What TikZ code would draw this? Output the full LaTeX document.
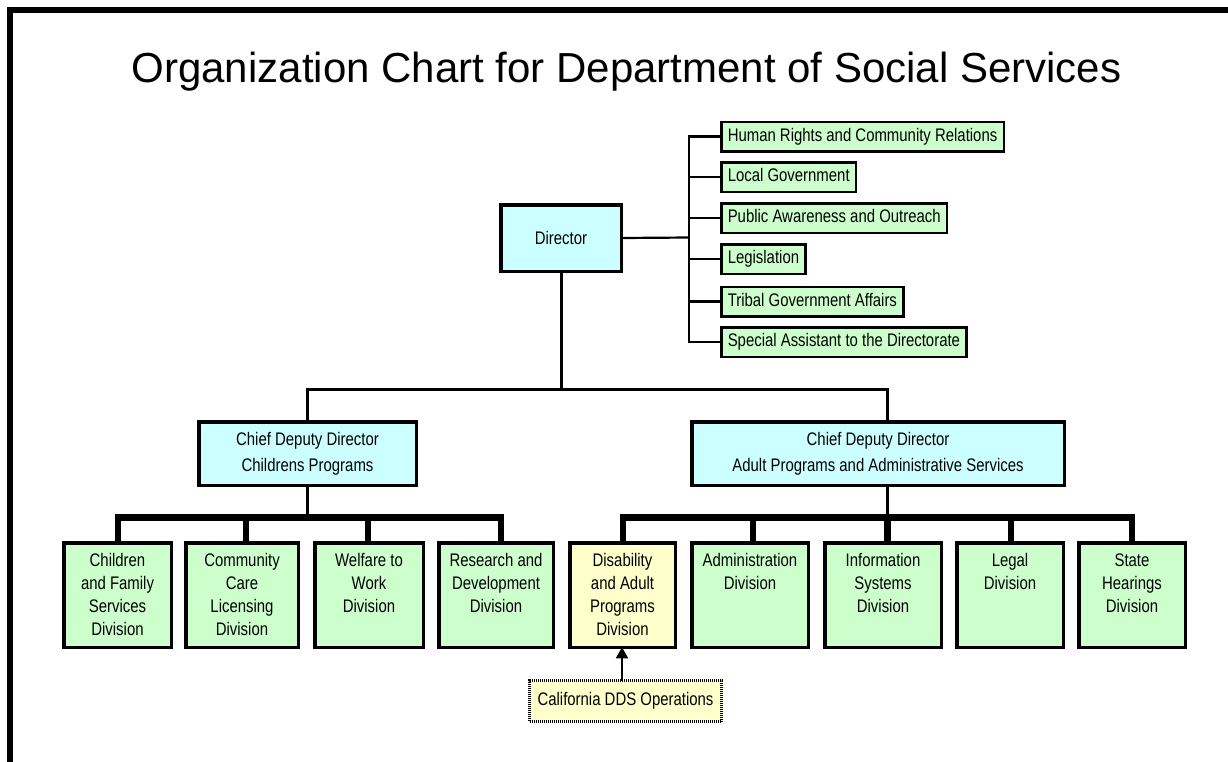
\documentclass[tikz,border=0pt]{standalone}
\usepackage{fontspec}
\setmainfont{Liberation Sans}
\newfontfamily\narrowfont[FakeStretch=0.82]{Liberation Sans}
\usetikzlibrary{arrows.meta}
\definecolor{bosscyan}{HTML}{CCFFFF}
\definecolor{unitgreen}{HTML}{CCFFCC}
\definecolor{unityellow}{HTML}{FFFFCC}
% division box text: top-aligned block of lines
\newcommand\divlines[1]{\parbox[c][90pt][t]{104pt}{\centering\strut #1}}
\begin{document}
\begin{tikzpicture}[x=1pt,y=-1pt,outer sep=0pt,
  topbox/.style={draw,line width=3.5pt,fill=bosscyan,inner sep=0pt,align=center,
    font=\narrowfont\fontsize{18.2}{26}\selectfont},
  staffbox/.style={draw,line width=2.5pt,fill=unitgreen,anchor=west,inner xsep=6.5pt,
    inner ysep=0pt,minimum height=29.5pt,text height=12.5pt,text depth=3.5pt,
    font=\narrowfont\fontsize{18.2}{23}\selectfont},
  divbox/.style={draw,line width=3.5pt,fill=unitgreen,inner sep=0pt,minimum height=104.5pt,
    font=\narrowfont\fontsize{18.2}{23}\selectfont},
  ddsbox/.style={draw,line width=3pt,dash pattern=on 1pt off 1pt,fill=unityellow,
    inner sep=0pt,minimum width=192pt,minimum height=41pt,
    font=\narrowfont\fontsize{18.2}{23}\selectfont},
  link/.style={line width=3pt},
  stafflink/.style={line width=2.2pt},
  bus/.style={line width=6.5pt},
  frameline/.style={line width=6pt,line join=miter}]

\useasboundingbox (0,0) rectangle (1228,761);
\fill[white] (0,0) rectangle (1228,761);

% outer frame (top and left edges)
\draw[frameline] (10,775) -- (10,10) -- (1240,10);

% title
\node[anchor=base,font=\fontsize{42}{50}\selectfont] (title) at (626.5,82)
  {Organization Chart for Department of Social Services};

% director and chief deputies
\node[topbox,minimum width=120.5pt,minimum height=66.5pt] (dir) at (561,238) {Director};
\node[topbox,minimum width=217.5pt,minimum height=63.5pt] (cdc) at (307.5,453.5)
  {Chief Deputy Director\\Childrens Programs};
\node[topbox,minimum width=372.5pt,minimum height=63.5pt] (cda) at (878,453.5)
  {Chief Deputy Director\\Adult Programs and Administrative Services};

% staff offices reporting to the director
\node[staffbox] (s1) at (721.25,136.5) {Human Rights and Community Relations};
\node[staffbox] (s2) at (721.25,177) {Local Government};
\node[staffbox] (s3) at (721.25,218) {Public Awareness and Outreach};
\node[staffbox] (s4) at (721.25,259) {Legislation};
\node[staffbox] (s5) at (721.25,301.5) {Tribal Government Affairs};
\node[staffbox] (s6) at (721.25,342) {Special Assistant to the Directorate};

% divisions
\node[divbox,minimum width=107.5pt] (d1) at (117.5,595) {\divlines{Children\\and Family\\Services\\Division}};
\node[divbox,minimum width=112.5pt] (d2) at (242,595) {\divlines{Community\\Care\\Licensing\\Division}};
\node[divbox,minimum width=108.5pt] (d3) at (369,595) {\divlines{Welfare to\\Work\\Division}};
\node[divbox,minimum width=114.5pt] (d4) at (496,595) {\divlines{Research and\\Development\\Division}};
\node[divbox,fill=unityellow,minimum width=105.5pt] (d5) at (622.5,595) {\divlines{Disability\\and Adult\\Programs\\Division}};
\node[divbox,minimum width=116.5pt] (d6) at (750,595) {\divlines{Administration\\Division}};
\node[divbox,minimum width=116.5pt] (d7) at (883,595) {\divlines{Information\\Systems\\Division}};
\node[divbox,minimum width=106.5pt] (d8) at (1010,595) {\divlines{Legal\\Division}};
\node[divbox,minimum width=106.5pt] (d9) at (1132,595) {\divlines{State\\Hearings\\Division}};

% outside operations
\node[ddsbox] (dds) at (625.5,701) {California DDS Operations};

% director to chief deputies
\coordinate (hub) at (561,389);
\draw[link] (dir.south) -- (hub);
\draw[link] (cdc.north) |- (hub);
\draw[link] ([xshift=9pt]cda.north) |- (hub);

% director to staff offices
\coordinate (spine) at (689,237.5);
\draw[stafflink] (dir.east) -- (spine);
\foreach \s in {s1,s2,s3,s4,s5,s6}
  \draw[stafflink] (\s.west) -| (spine);

% childrens programs bus
\coordinate (busC) at (307.5,517.5);
\draw[link] (cdc.south) -- (busC);
\draw[bus] ([xshift=0.5pt]d1.north) |- (busC);
\draw[bus] ([xshift=4pt]d2.north) |- (busC);
\draw[bus] ([xshift=-1pt]d3.north) |- (busC);
\draw[bus] ([xshift=5pt]d4.north) |- (busC);

% adult programs bus
\coordinate (busA) at (887.5,517.5);
\draw[link] ([xshift=9.5pt]cda.south) -- (busA);
\draw[bus] ([xshift=0.5pt]d5.north) |- (busA);
\draw[bus] ([xshift=3pt]d6.north) |- (busA);
\draw[bus] ([xshift=4.5pt]d7.north) |- (busA);
\draw[bus] ([xshift=1pt]d8.north) |- (busA);
\draw[bus] (d9.north) |- (busA);

% operations report to disability division
\draw[line width=1.8pt,-{Triangle[width=12pt,length=11pt]}]
  ([xshift=-3.5pt]dds.north) -- ([xshift=-0.5pt]d5.south);
\end{tikzpicture}
\end{document}
